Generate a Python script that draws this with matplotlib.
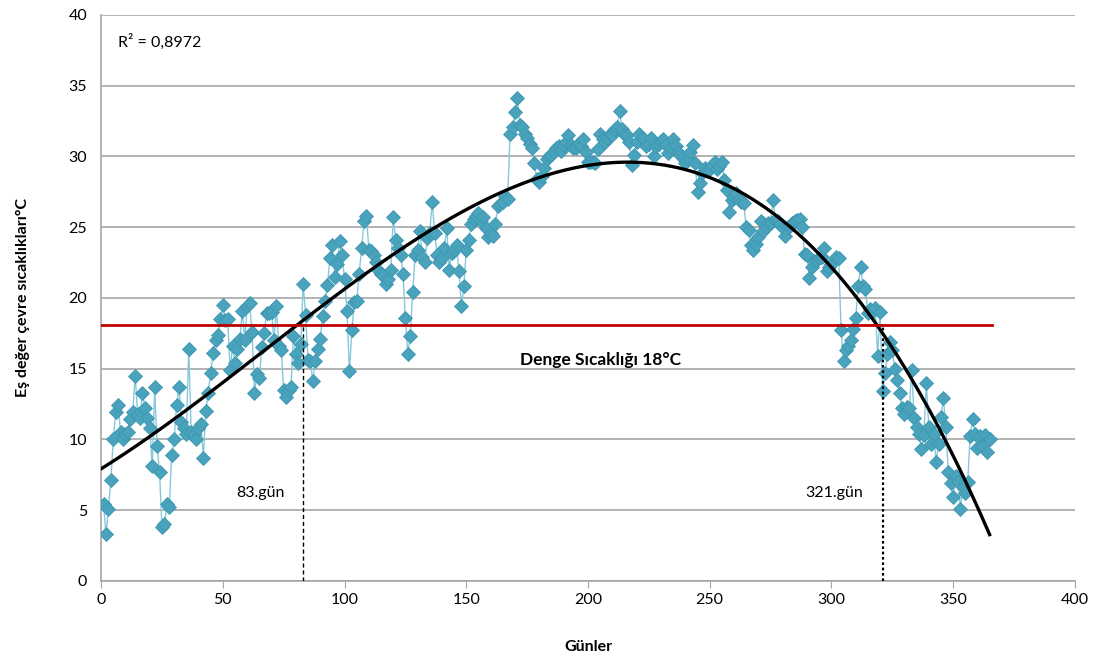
import matplotlib
matplotlib.use("Agg")
import matplotlib.pyplot as plt
import numpy as np

# daily equivalent outdoor temperatures, day 1..365
temps = [
    5.4, 3.3, 5.1, 7.1, 10.0, 11.9, 12.4, 10.5, 10.0, 10.4,
    10.5, 11.4, 11.9, 14.5, 11.8, 11.5, 13.3, 12.2, 11.5, 10.8,
    8.1, 13.7, 9.5, 7.7, 3.8, 4.0, 5.4, 5.2, 8.9, 10.0,
    12.4, 13.7, 11.2, 10.8, 10.4, 16.4, 10.5, 10.4, 10.0, 10.8,
    11.1, 8.7, 12.0, 13.3, 14.7, 16.1, 17.0, 17.4, 18.5, 19.5,
    18.4, 18.5, 14.9, 16.6, 15.4, 16.4, 17.1, 19.1, 17.0, 19.4,
    19.6, 17.6, 13.3, 14.6, 14.3, 16.5, 17.5, 18.9, 18.9, 19.0,
    17.0, 19.4, 16.6, 16.3, 13.5, 13.0, 13.5, 13.7, 17.3, 16.0,
    15.4, 16.7, 21.0, 18.8, 15.6, 15.5, 14.1, 15.5, 16.4, 17.1,
    18.7, 19.8, 20.9, 22.8, 23.7, 21.5, 22.4, 24.0, 23.0, 21.3,
    19.1, 14.8, 17.7, 19.7, 19.8, 21.7, 23.5, 25.4, 25.8, 23.4,
    23.3, 23.0, 22.5, 21.9, 21.7, 21.6, 21.0, 21.3, 22.0, 25.7,
    24.1, 23.5, 23.0, 21.7, 18.6, 16.0, 17.3, 20.4, 23.0, 23.4,
    24.7, 22.9, 22.5, 24.2, 24.6, 26.8, 24.6, 23.0, 22.5, 22.8,
    23.5, 24.9, 22.0, 23.2, 23.4, 23.7, 21.9, 19.4, 20.8, 23.4,
    24.1, 25.2, 25.6, 25.8, 26.0, 25.4, 25.7, 24.9, 24.3, 24.6,
    24.4, 25.2, 26.5, 26.6, 26.8, 27.2, 27.0, 31.6, 32.1, 33.1,
    34.1, 32.2, 32.1, 31.6, 31.3, 30.9, 30.6, 29.5, 28.4, 28.2,
    28.6, 29.2, 29.8, 30.0, 30.1, 30.3, 30.6, 30.7, 30.4, 30.8,
    31.0, 31.5, 30.8, 30.6, 30.6, 30.9, 30.7, 31.2, 30.3, 29.6,
    29.6, 29.6, 29.5, 30.5, 31.6, 31.2, 31.0, 31.3, 31.6, 31.5,
    31.9, 32.1, 33.2, 31.9, 31.6, 31.5, 31.0, 29.4, 30.1, 31.0,
    31.6, 31.3, 31.2, 30.7, 30.9, 31.3, 30.0, 30.7, 30.9, 31.1,
    31.2, 30.8, 30.2, 30.6, 31.2, 30.7, 30.3, 30.1, 29.9, 29.5,
    29.9, 30.3, 30.8, 29.5, 27.5, 28.1, 28.8, 29.2, 29.0, 29.1,
    29.4, 29.6, 29.1, 29.3, 29.6, 28.3, 27.6, 26.1, 26.9, 27.2,
    27.4, 27.0, 26.8, 26.7, 25.0, 24.8, 23.7, 23.4, 23.8, 24.3,
    25.4, 24.7, 25.0, 25.3, 25.3, 26.9, 25.5, 25.4, 25.2, 24.9,
    24.4, 25.0, 25.1, 25.3, 25.4, 25.5, 25.6, 25.0, 23.1, 23.0,
    21.4, 22.2, 22.6, 22.7, 22.8, 22.9, 23.5, 21.9, 22.2, 22.4,
    22.6, 22.9, 22.8, 17.7, 15.5, 16.3, 16.6, 17.0, 17.8, 18.6,
    20.8, 22.2, 20.8, 20.6, 18.9, 19.2, 19.1, 19.3, 15.9, 19.0,
    13.4, 14.7, 16.0, 16.9, 16.3, 15.0, 14.2, 13.3, 12.2, 11.8,
    12.3, 12.2, 14.9, 11.5, 10.9, 10.4, 9.3, 10.3, 14.0, 10.9,
    9.7, 10.4, 8.4, 9.7, 11.6, 12.9, 10.9, 7.7, 6.9, 5.9,
    7.4, 7.0, 5.1, 6.6, 6.2, 7.0, 10.2, 11.4, 10.4, 9.4,
    10.2, 9.5, 10.3, 9.1, 10.0,
]
days = np.arange(1, len(temps) + 1)

balance_temp = 18.1
cross_days = [83, 321]
r2_text = "R² = 0,8972"

plt.rcParams['font.family'] = ['Lato', 'DejaVu Sans']

fig = plt.figure(figsize=(10.99, 6.66), dpi=100)
ax = fig.add_axes([0.092, 0.128, 0.886, 0.8497])

# horizontal grid
ax.set_axisbelow(True)
ax.yaxis.grid(True, color='#a6a6a6', linewidth=1.2)

# measured data
ax.plot(days, temps, color='#86c9dc', linewidth=1.0, zorder=2)
ax.plot(days, temps, linestyle='none', marker='D', markersize=6.8,
        markerfacecolor='#4aa3bd', markeredgecolor='#3e97b0', markeredgewidth=0.6, zorder=3)

# 3rd order polynomial trend
coef = np.polyfit(days, temps, 3)
xt = np.linspace(0, days[-1], 400)
ax.plot(xt, np.polyval(coef, xt), color='black', linewidth=2.4, zorder=4)

# balance temperature line
ax.plot([0, 366], [balance_temp, balance_temp], color='#c00000', linewidth=2.0, zorder=5)
ax.text(205, 15.6, "Denge Sıcaklığı 18°C", ha='center', va='center',
        fontsize=12.5, fontweight='bold', color='black')

# crossing markers
ax.plot([cross_days[0]] * 2, [0, balance_temp], color='black', linestyle=(0, (3, 2)), linewidth=1.0, zorder=4)
ax.plot([cross_days[1]] * 2, [0, balance_temp], color='black', linestyle=(0, (1.2, 1.2)), linewidth=1.6, zorder=4)
ax.text(65.5, 6.2, "83.gün", ha='center', va='center', fontsize=11.5)
ax.text(301, 6.2, "321.gün", ha='center', va='center', fontsize=11.5)

ax.text(7, 38.1, r2_text, ha='left', va='center', fontsize=11.5)

ax.set_xlim(0, 400)
ax.set_ylim(0, 40)
ax.set_xticks(np.arange(0, 401, 50))
ax.set_yticks(np.arange(0, 41, 5))
ax.tick_params(axis='both', labelsize=11.5, color='#a6a6a6', length=5, direction='out')
ax.tick_params(axis='y', length=0, pad=10)

for side in ['top', 'right']:
    ax.spines[side].set_visible(False)
for side in ['left', 'bottom']:
    ax.spines[side].set_color('#a6a6a6')
    ax.spines[side].set_linewidth(1.2)

ax.set_xlabel("Günler", fontsize=11.5, fontweight='bold', labelpad=24)
ax.set_ylabel("Eş değer çevre sıcaklıkları°C", fontsize=11.5, fontweight='bold', labelpad=28)

fig.savefig("out.png", dpi=100)
